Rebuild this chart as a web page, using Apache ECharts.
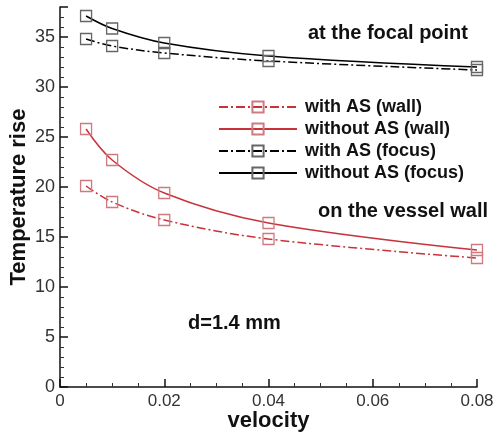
<!DOCTYPE html>
<html><head><meta charset="utf-8">
<script src="https://cdn.jsdelivr.net/npm/echarts@6/dist/echarts.min.js"></script>
<style>html,body{margin:0;padding:0;background:#fff}#c{width:496px;height:436px}</style>
</head><body><div id="c"></div>
<script>
const velocity = [0.005, 0.01, 0.02, 0.04, 0.08];
const withASWall = [20.1, 18.5, 16.7, 14.8, 12.9];
const withoutASWall = [25.8, 22.7, 19.4, 16.4, 13.7];
const withASFocus = [34.8, 34.1, 33.4, 32.6, 31.7];
const withoutASFocus = [37.1, 35.85, 34.4, 33.1, 32.0];
const seriesNames = ['with AS (wall)', 'without AS (wall)', 'with AS (focus)', 'without AS (focus)'];
const xTicks = [0, 0.02, 0.04, 0.06, 0.08];
const yTicks = [0, 5, 10, 15, 20, 25, 30, 35];

const FONT = 'Liberation Sans, Arial, sans-serif';
const RED = '#c8323a';
const dashDot = [9, 3, 2, 3];

function mk(name, vals, color, dashed, symColor) {
  return {
    name, type: 'line', smooth: 0.35,
    data: velocity.map((v, i) => [v, vals[i]]),
    symbol: 'rect', symbolSize: 11,
    lineStyle: { color, width: 1.5, type: dashed ? dashDot : 'solid' },
    itemStyle: { color: 'rgba(255,255,255,0)', borderColor: symColor, borderWidth: 1.3 },
    z: 3
  };
}

const chart = echarts.init(document.getElementById('c'), null, { renderer: 'canvas' });
chart.setOption({
  animation: false,
  backgroundColor: '#fff',
  grid: { left: 60, right: 19, top: 7, bottom: 49, containLabel: false, outerBoundsMode: 'none' },
  xAxis: {
    type: 'value', min: 0, max: 0.08, interval: 0.02,
    name: 'velocity', nameLocation: 'middle', nameGap: 23, nameMoveOverlap: false,
    nameTextStyle: { fontFamily: FONT, fontSize: 22, fontWeight: 'bold', color: '#111' },
    axisLine: { lineStyle: { color: '#111', width: 1.5 } },
    axisTick: { inside: true, length: 8, lineStyle: { color: '#111', width: 1.5 } },
    minorTick: { show: true, splitNumber: 4, length: 4, lineStyle: { color: '#333', width: 1 } },
    splitLine: { show: false },
    axisLabel: { fontFamily: FONT, fontSize: 17, color: '#333', margin: 6,
      formatter: v => xTicks.includes(+v.toFixed(2)) ? String(+v.toFixed(2)) : '' }
  },
  yAxis: {
    type: 'value', min: 0, max: 38, interval: 5,
    name: 'Temperature rise', nameLocation: 'middle', nameGap: 30, nameRotate: 90, nameMoveOverlap: false,
    nameTextStyle: { fontFamily: FONT, fontSize: 22, fontWeight: 'bold', color: '#111' },
    axisLine: { show: true, lineStyle: { color: '#111', width: 1.5 } },
    axisTick: { show: true, inside: true, length: 8, lineStyle: { color: '#111', width: 1.5 } },
    minorTick: { show: true, splitNumber: 5, length: 4, lineStyle: { color: '#333', width: 1 } },
    splitLine: { show: false },
    axisLabel: { fontFamily: FONT, fontSize: 18, color: '#333', margin: 5,
      formatter: v => yTicks.includes(v) ? String(v) : '' }
  },
  legend: {
    orient: 'vertical', left: 213, top: 93, itemGap: 4,
    itemWidth: 78, itemHeight: 14,
    textStyle: { fontFamily: FONT, fontSize: 18, fontWeight: 'bold', color: '#111', padding: [0, 0, 0, 3] },
    data: seriesNames
  },
  series: [
    mk(seriesNames[0], withASWall, RED, true, '#d07a80'),
    mk(seriesNames[1], withoutASWall, RED, false, '#d07a80'),
    mk(seriesNames[2], withASFocus, '#000', true, '#666'),
    mk(seriesNames[3], withoutASFocus, '#000', false, '#666')
  ],
  graphic: [
    { type: 'text', left: 308, top: 23, style: { text: 'at the focal point', fontFamily: FONT, fontSize: 20, fontWeight: 'bold', fill: '#111' } },
    { type: 'text', left: 318, top: 201, style: { text: 'on the vessel wall', fontFamily: FONT, fontSize: 20, fontWeight: 'bold', fill: '#111' } },
    { type: 'text', left: 188, top: 313, style: { text: 'd=1.4 mm', fontFamily: FONT, fontSize: 20, fontWeight: 'bold', fill: '#111' } }
  ]
});
</script></body></html>
